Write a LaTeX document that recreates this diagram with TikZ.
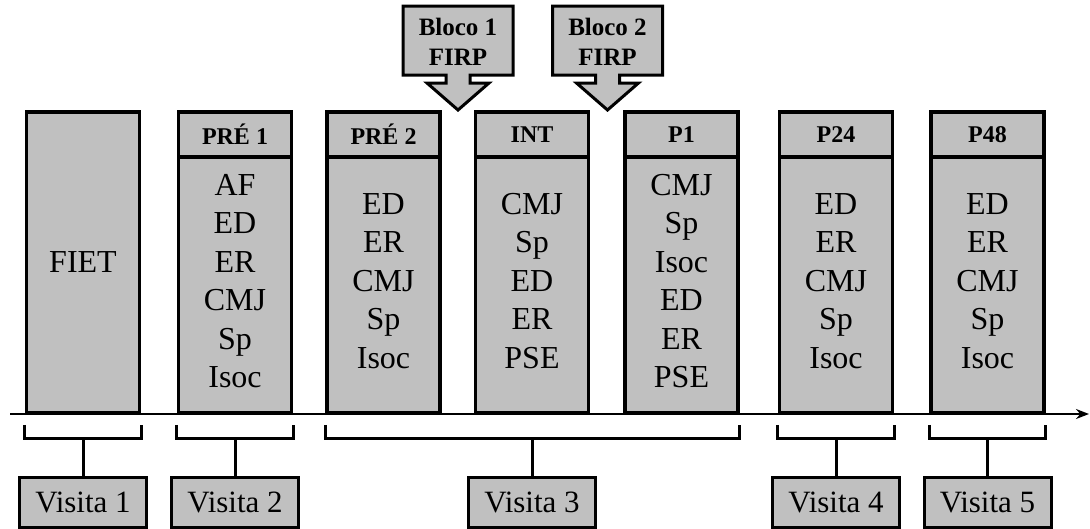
\documentclass[tikz,border=0pt]{standalone}
\usepackage{fontspec}
\setmainfont{Liberation Serif}
\usetikzlibrary{arrows.meta}
\definecolor{boxgray}{RGB}{192,192,192}
\begin{document}
\begin{tikzpicture}[x=1pt,y=-1pt,
  colbox/.style={draw, line width=3.5pt, fill=boxgray, inner sep=0pt, minimum width=113pt, minimum height=301pt,
    font=\fontsize{32}{38.5}\selectfont},
  hdrbox/.style={draw, line width=3.5pt, fill=boxgray, inner sep=0pt, minimum width=113pt, minimum height=45pt,
    font=\fontsize{24}{28}\selectfont\bfseries},
  bodytxt/.style={align=center, inner sep=0pt, font=\fontsize{32}{38.5}\selectfont},
  visbox/.style={draw, line width=3pt, fill=boxgray, inner sep=0pt, minimum width=127pt, minimum height=50pt,
    font=\fontsize{31}{36}\selectfont},
  brk/.style={line width=3pt},
  axisline/.style={line width=2pt, -{Stealth[length=13pt,width=10pt]}},
  callout/.style={draw, line width=3pt, fill=boxgray, line join=miter},
  calltxt/.style={align=center, inner sep=0pt, font=\fontsize{25}{30}\selectfont\bfseries}
]
\useasboundingbox (0,0) rectangle (1090,528);

% time axis
\coordinate (axs) at (10,414);
\coordinate (axe) at (1089,414);
\draw[axisline] (axs) -- (axe);

% columns
\node[colbox] (fiet) at (83,262.5) {FIET};

\node[colbox] (pre1) at (235,262.5) {};
\node[hdrbox] (pre1h) at (235,134.5) {PRÉ 1};
\node[bodytxt] (pre1b) at (235,281) {AF\\ED\\ER\\CMJ\\Sp\\Isoc};

\node[colbox] (pre2) at (383.5,262.5) {};
\node[hdrbox] (pre2h) at (383.5,134.5) {PRÉ 2};
\node[bodytxt] (pre2b) at (383.5,281) {ED\\ER\\CMJ\\Sp\\Isoc};

\node[colbox] (int) at (532,262.5) {};
\node[hdrbox] (inth) at (532,134.5) {INT};
\node[bodytxt] (intb) at (532,281) {CMJ\\Sp\\ED\\ER\\PSE};

\node[colbox] (p1) at (681.5,262.5) {};
\node[hdrbox] (p1h) at (681.5,134.5) {P1};
\node[bodytxt] (p1b) at (681.5,281) {CMJ\\Sp\\Isoc\\ED\\ER\\PSE};

\node[colbox] (p24) at (836,262.5) {};
\node[hdrbox] (p24h) at (836,134.5) {P24};
\node[bodytxt] (p24b) at (836,281) {ED\\ER\\CMJ\\Sp\\Isoc};

\node[colbox] (p48) at (987.5,262.5) {};
\node[hdrbox] (p48h) at (987.5,134.5) {P48};
\node[bodytxt] (p48b) at (987.5,281) {ED\\ER\\CMJ\\Sp\\Isoc};

% callouts
\begin{scope}[shift={(458,0)}]
  \draw[callout] (-55,6) -- (55,6) -- (55,75) -- (12,75) -- (12,83) -- (31,83) -- (0,110)
    -- (-31,83) -- (-12,83) -- (-12,75) -- (-55,75) -- cycle;
  \node[calltxt] (b1) at (0,42) {Bloco 1\\FIRP};
\end{scope}
\begin{scope}[shift={(607.5,0)}]
  \draw[callout] (-55,6) -- (55,6) -- (55,75) -- (12,75) -- (12,83) -- (31,83) -- (0,110)
    -- (-31,83) -- (-12,83) -- (-12,75) -- (-55,75) -- cycle;
  \node[calltxt] (b2) at (0,42) {Bloco 2\\FIRP};
\end{scope}

% visit boxes
\node[visbox] (v1) at (83,502) {Visita 1};
\node[visbox] (v2) at (235,502) {Visita 2};
\node[visbox] (v3) at (532,502) {Visita 3};
\node[visbox] (v4) at (836,502) {Visita 4};
\node[visbox] (v5) at (987.5,502) {Visita 5};

% brackets
\draw[brk] ([yshift=-10pt]fiet.south west) -- ([yshift=-24pt]fiet.south west)
  -- ([yshift=-24pt]fiet.south east) -- ([yshift=-10pt]fiet.south east);
\draw[brk] ([yshift=-24pt]fiet.south) -- (v1.north);

\draw[brk] ([yshift=-10pt]pre1.south west) -- ([yshift=-24pt]pre1.south west)
  -- ([yshift=-24pt]pre1.south east) -- ([yshift=-10pt]pre1.south east);
\draw[brk] ([yshift=-24pt]pre1.south) -- (v2.north);

\draw[brk] ([yshift=-10pt]pre2.south west) -- ([yshift=-24pt]pre2.south west)
  -- ([yshift=-24pt]p1.south east) -- ([yshift=-10pt]p1.south east);
\draw[brk] ([yshift=-24pt]int.south) -- (v3.north);

\draw[brk] ([yshift=-10pt]p24.south west) -- ([yshift=-24pt]p24.south west)
  -- ([yshift=-24pt]p24.south east) -- ([yshift=-10pt]p24.south east);
\draw[brk] ([yshift=-24pt]p24.south) -- (v4.north);

\draw[brk] ([yshift=-10pt]p48.south west) -- ([yshift=-24pt]p48.south west)
  -- ([yshift=-24pt]p48.south east) -- ([yshift=-10pt]p48.south east);
\draw[brk] ([yshift=-24pt]p48.south) -- (v5.north);
\end{tikzpicture}
\end{document}
